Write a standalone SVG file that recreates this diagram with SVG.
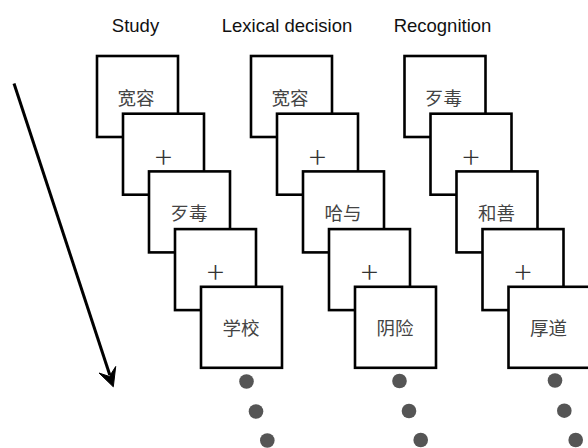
<svg xmlns="http://www.w3.org/2000/svg" width="588" height="448" viewBox="0 0 588 448">
<defs>
<style>
.box{fill:#fff;stroke:#000;stroke-width:2.6}
.hd{font-family:"Liberation Sans",Arial,sans-serif;font-size:18.5px;fill:#111;text-anchor:middle}
.zh{font-family:"Noto Sans CJK SC","Noto Sans CJK JP",sans-serif;font-size:18.5px;fill:#444;text-anchor:middle;dominant-baseline:central}
.pl{font-family:"Inter","DejaVu Sans",sans-serif;font-weight:200;font-size:34px;fill:#333;text-anchor:middle;dominant-baseline:central}
.dot{fill:#555}
</style>
</defs>
<rect width="588" height="448" fill="#fff"/>
<g id="headers">
<text class="hd" x="135.5" y="32">Study</text>
<text class="hd" x="287" y="32">Lexical decision</text>
<text class="hd" x="442.5" y="32">Recognition</text>
</g>
<g id="connectors">
<line x1="14" y1="83.5" x2="109.8" y2="375" stroke="#000" stroke-width="3"/>
<polygon points="113.3,386.8 99,373 109.4,376.5 115.7,366.5" fill="#000" stroke="#000" stroke-width="1" stroke-linejoin="miter"/>
</g>
<g id="study">
<g id="s1"><rect class="box" x="97" y="56" width="81" height="81"/><text class="zh" x="136" y="96.5">宽容</text></g>
<g id="s2"><rect class="box" x="123" y="113.7" width="81" height="81"/><text class="pl" x="163.5" y="154.2">+</text></g>
<g id="s3"><rect class="box" x="149" y="171.4" width="81" height="81"/><text class="zh" x="189" y="211.9">歹毒</text></g>
<g id="s4"><rect class="box" x="175" y="229.1" width="81" height="81"/><text class="pl" x="215.5" y="269.6">+</text></g>
<g id="s5"><rect class="box" x="201" y="286.8" width="81" height="81"/><text class="zh" x="241" y="327.3">学校</text></g>
<g id="s-dots"><circle class="dot" cx="246.5" cy="381.5" r="7.3"/><circle class="dot" cx="256" cy="411.5" r="7.3"/><circle class="dot" cx="267.3" cy="440.5" r="7.3"/></g>
</g>
<g id="lexical">
<g id="l1"><rect class="box" x="251" y="56" width="81" height="81"/><text class="zh" x="290" y="96.5">宽容</text></g>
<g id="l2"><rect class="box" x="277" y="113.7" width="81" height="81"/><text class="pl" x="317.5" y="154.2">+</text></g>
<g id="l3"><rect class="box" x="303" y="171.4" width="81" height="81"/><text class="zh" x="343" y="211.9">哈与</text></g>
<g id="l4"><rect class="box" x="329" y="229.1" width="81" height="81"/><text class="pl" x="369.5" y="269.6">+</text></g>
<g id="l5"><rect class="box" x="355" y="286.8" width="81" height="81"/><text class="zh" x="395" y="327.3">阴险</text></g>
<g id="l-dots"><circle class="dot" cx="399.5" cy="381" r="7.3"/><circle class="dot" cx="409" cy="411" r="7.3"/><circle class="dot" cx="420.7" cy="440" r="7.3"/></g>
</g>
<g id="recognition">
<g id="r1"><rect class="box" x="404.5" y="56" width="81" height="81"/><text class="zh" x="443.5" y="96.5">歹毒</text></g>
<g id="r2"><rect class="box" x="430.5" y="113.7" width="81" height="81"/><text class="pl" x="471" y="154.2">+</text></g>
<g id="r3"><rect class="box" x="456.5" y="171.4" width="81" height="81"/><text class="zh" x="496.5" y="211.9">和善</text></g>
<g id="r4"><rect class="box" x="482.5" y="229.1" width="81" height="81"/><text class="pl" x="523" y="269.6">+</text></g>
<g id="r5"><rect class="box" x="508.5" y="286.8" width="81" height="81"/><text class="zh" x="548.5" y="327.3">厚道</text></g>
<g id="r-dots"><circle class="dot" cx="555" cy="380.5" r="7.3"/><circle class="dot" cx="564.3" cy="410.7" r="7.3"/><circle class="dot" cx="575.7" cy="440" r="7.3"/></g>
</g>
</svg>
